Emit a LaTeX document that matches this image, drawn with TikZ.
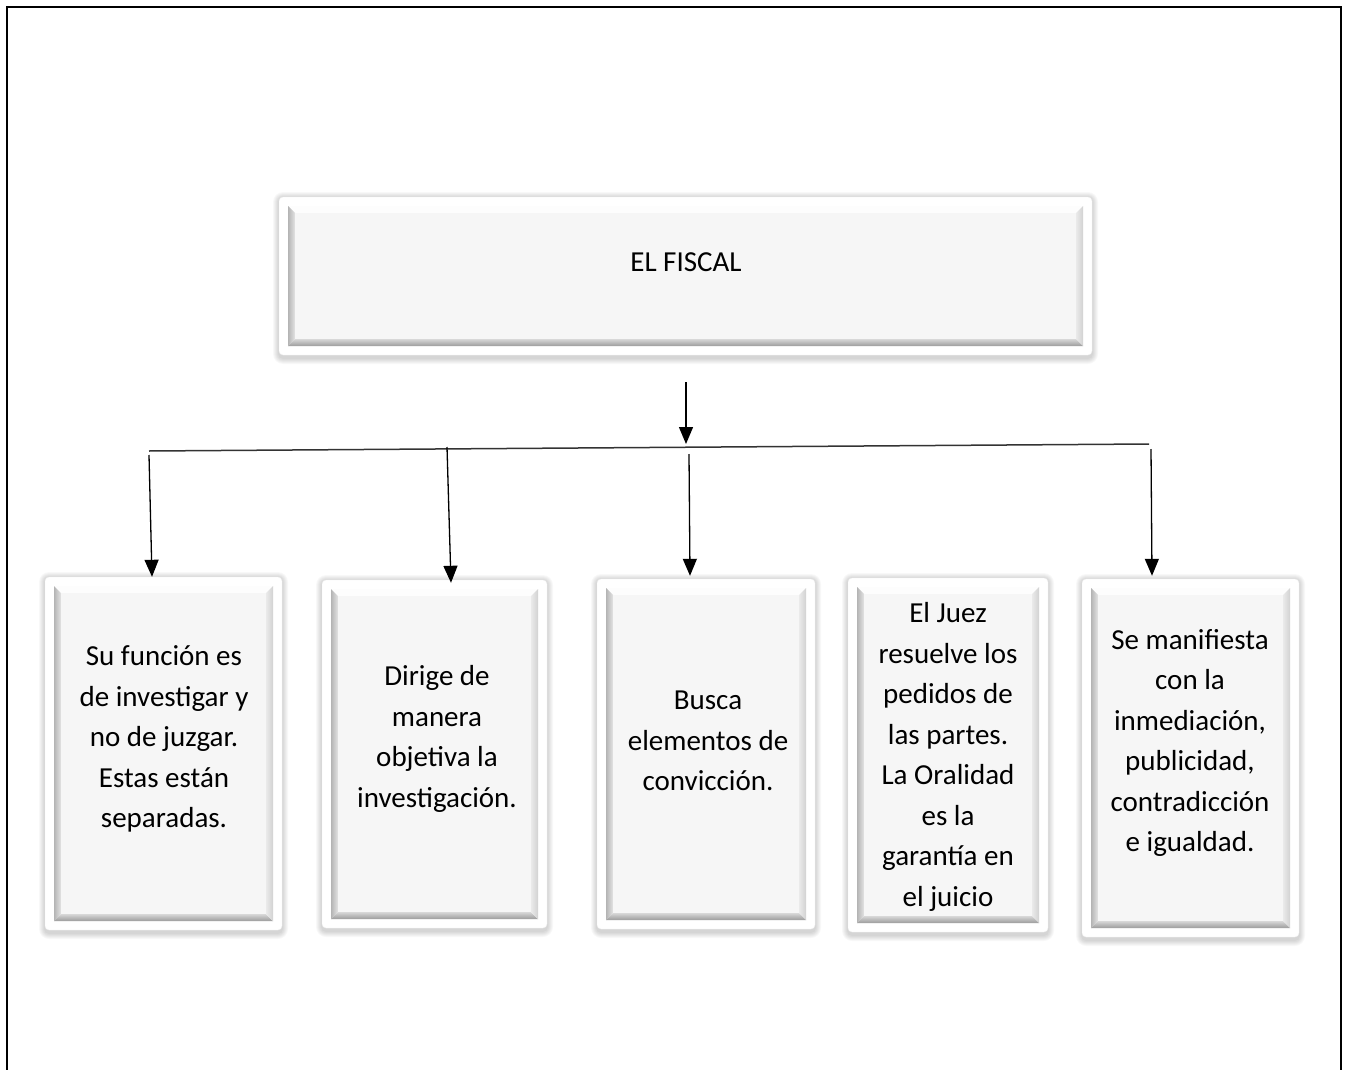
\documentclass[tikz,border=0pt]{standalone}
\usepackage{fontspec}
\setmainfont{Carlito}
\usetikzlibrary{arrows.meta,fit,calc}
\definecolor{face}{HTML}{F6F6F6}
\definecolor{bevtop}{HTML}{FDFDFD}
\definecolor{bevLo}{HTML}{B4B4B4}
\definecolor{bevLi}{HTML}{E4E4E4}
\definecolor{bevBi}{HTML}{D8D8D8}
\definecolor{bevBo}{HTML}{9C9C9C}
\definecolor{bevRi}{HTML}{EAEAEA}
\definecolor{bevRo}{HTML}{D2D2D2}
\definecolor{barline}{HTML}{333333}
\tikzset{
  outerbox/.style={fill=white, draw=black!6, line width=0.4pt, rounded corners=4pt, inner sep=0pt},
  txt/.style={align=center, font=\fontsize{29}{40.5}\selectfont, text=black, inner sep=0pt},
  conn/.style={line width=1.3pt, draw=black, -{Triangle[width=14pt,length=17pt]}},
  barstyle/.style={line width=1.5pt, draw=barline},
  framestyle/.style={line width=2.6pt, draw=black}
}
\newcommand{\bevbox}[5]{%
  \foreach \k in {1,...,6}{\fill[black,opacity=0.028,rounded corners={4+\k}] ({#2-\k},{#3-\k+1}) rectangle ({#4+\k},{#5+\k+3});}
  \node[outerbox, fit={(#2,#3) (#4,#5)}] (#1) {};
  \fill[bevtop] ({#2+9},{#3+9}) -- ({#4-9},{#3+9}) -- ({#4-16},{#3+16}) -- ({#2+16},{#3+16}) -- cycle;
  \shade[left color=bevLo, right color=bevLi] ({#2+9},{#3+9}) -- ({#2+16},{#3+16}) -- ({#2+16},{#5-16}) -- ({#2+9},{#5-9}) -- cycle;
  \shade[top color=bevBi, bottom color=bevBo] ({#2+9},{#5-9}) -- ({#2+16},{#5-16}) -- ({#4-16},{#5-16}) -- ({#4-9},{#5-9}) -- cycle;
  \shade[left color=bevRi, right color=bevRo] ({#4-9},{#3+9}) -- ({#4-16},{#3+16}) -- ({#4-16},{#5-16}) -- ({#4-9},{#5-9}) -- cycle;
  \fill[face] ({#2+16},{#3+16}) rectangle ({#4-16},{#5-16});
}
\begin{document}
\begin{tikzpicture}[x=1pt,y=-1pt]
\useasboundingbox (0,0) rectangle (1346,1070);
\fill[white] (0,0) rectangle (1346,1070);
% outer frame
\draw[framestyle] (7,1080) -- (7,7) -- (1341,7) -- (1341,1080);

% boxes
\bevbox{top}{279}{197}{1092}{355}
\bevbox{b1}{45}{577}{282}{930}
\bevbox{b2}{322}{580}{547}{928}
\bevbox{b3}{597}{579}{815}{929}
\bevbox{b4}{848}{578}{1048}{932}
\bevbox{b5}{1082}{579}{1299}{937}

% texts
\node[txt] (ttop) at (686,262) {EL FISCAL};
\node[txt] (t1) at (164,739) {Su función es\\de investigar y\\no de juzgar.\\Estas están\\separadas.};
\node[txt] (t2) at (437,739) {Dirige de\\manera\\objetiva la\\investigación.};
\node[txt] (t3) at (708,741) {Busca\\elementos de\\convicción.};
\node[txt] (t4) at (948,757) {El Juez\\resuelve los\\pedidos de\\las partes.\\La Oralidad\\es la\\garantía en\\el juicio};
\node[txt] (t5) at (1190,743) {Se manifiesta\\con la\\inmediación,\\publicidad,\\contradicción\\e igualdad.};

% connectors
\coordinate (s0) at (686,382);
\coordinate (j0) at (686,444);
\coordinate (barL) at (149,451);
\coordinate (barR) at (1149,444);
\coordinate (a1) at (149,455);
\coordinate (a2) at (447,447);
\coordinate (a3) at (689,454);
\coordinate (a5) at (1151,449);

\draw[conn] (s0) -- (j0);
\draw[barstyle] (barL) -- (barR);
\draw[conn] (a1) -- ([xshift=-11.5pt]b1.north);
\draw[conn] (a2) -- ([xshift=16.5pt,yshift=-3pt]b2.north);
\draw[conn] (a3) -- ([xshift=-16pt,yshift=3pt]b3.north);
\draw[conn] (a5) -- ([xshift=-38.5pt,yshift=3pt]b5.north);
\end{tikzpicture}
\end{document}
